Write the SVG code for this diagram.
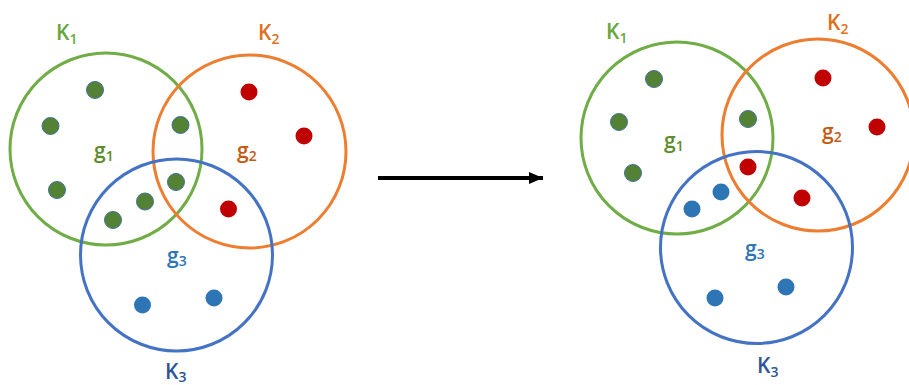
<svg xmlns="http://www.w3.org/2000/svg" width="909" height="385" viewBox="0 0 909 385">
<style>
.c{fill:none;stroke-width:3}
.cg{stroke:#70AD47}.co{stroke:#ED7D31}.cb{stroke:#4472C4}
.dg{fill:#548235;stroke:#41719C;stroke-width:1}
.dr{fill:#C00000}
.db{fill:#2E75B6}
text{font-family:"Open Sans","Liberation Sans",sans-serif;font-size:21px;font-weight:600}
.s{font-size:14px}
.tk1{fill:#6AA53E}.tg1{fill:#5B8C2A}
.tk2{fill:#E07020}.tg2{fill:#C55A11}
.tk3{fill:#2F5597}.tg3{fill:#2E75B6}
</style>
<defs>
<marker id="ah" markerWidth="14" markerHeight="12" refX="14" refY="6" orient="auto" markerUnits="userSpaceOnUse">
<path d="M0,0 L14,6 L0,12 Z" fill="#000"/>
</marker>
</defs>
<g id="left">
<g id="L-K1">
<circle class="c cg" cx="106" cy="149" r="96"/>
<circle class="dg" cx="95" cy="90" r="8.5"/>
<circle class="dg" cx="50.5" cy="126" r="8.5"/>
<circle class="dg" cx="180.5" cy="125" r="8.5"/>
<circle class="dg" cx="57" cy="190" r="8.5"/>
<circle class="dg" cx="176" cy="182" r="8.5"/>
<circle class="dg" cx="145" cy="201.5" r="8.5"/>
<circle class="dg" cx="113" cy="220" r="8.5"/>
<text class="tk1" x="56" y="40">K<tspan class="s" dy="4">1</tspan></text>
<text class="tg1" x="94" y="158">g<tspan class="s" dy="3">1</tspan></text>
</g>
<g id="L-K2">
<circle class="c co" cx="249.5" cy="151.5" r="96.5"/>
<circle class="dr" cx="249" cy="92" r="8.5"/>
<circle class="dr" cx="304" cy="136" r="8.5"/>
<circle class="dr" cx="228.5" cy="209" r="8.5"/>
<text class="tk2" x="258" y="40">K<tspan class="s" dy="4">2</tspan></text>
<text class="tg2" x="237" y="158">g<tspan class="s" dy="3">2</tspan></text>
</g>
<g id="L-K3">
<circle class="c cb" cx="176.5" cy="255" r="96"/>
<circle class="db" cx="142.5" cy="305" r="8.5"/>
<circle class="db" cx="214" cy="298" r="8.5"/>
<text class="tg3" x="167" y="263">g<tspan class="s" dy="3">3</tspan></text>
<text class="tk3" x="165" y="379">K<tspan class="s" dy="3">3</tspan></text>
</g>
</g>
<g id="connectors">
<line x1="378" y1="178" x2="543" y2="178" stroke="#000" stroke-width="4" marker-end="url(#ah)"/>
</g>
<g id="right">
<g id="R-K1">
<circle class="c cg" cx="677" cy="138" r="96"/>
<circle class="dg" cx="654" cy="79" r="8.5"/>
<circle class="dg" cx="619" cy="122" r="8.5"/>
<circle class="dg" cx="748" cy="119" r="8.5"/>
<circle class="dg" cx="633" cy="173" r="8.5"/>
<text class="tk1" x="606" y="39">K<tspan class="s" dy="4">1</tspan></text>
<text class="tg1" x="664" y="148">g<tspan class="s" dy="3">1</tspan></text>
</g>
<g id="R-K2">
<circle class="c co" cx="818" cy="135" r="96"/>
<circle class="dr" cx="823" cy="78" r="8.5"/>
<circle class="dr" cx="877" cy="127" r="8.5"/>
<circle class="dr" cx="748" cy="167" r="8.5"/>
<circle class="dr" cx="802" cy="198" r="8.5"/>
<text class="tk2" x="827" y="30">K<tspan class="s" dy="4">2</tspan></text>
<text class="tg2" x="822" y="139">g<tspan class="s" dy="3">2</tspan></text>
</g>
<g id="R-K3">
<circle class="c cb" cx="756.5" cy="247.5" r="96"/>
<circle class="db" cx="721" cy="192" r="8.5"/>
<circle class="db" cx="692" cy="209" r="8.5"/>
<circle class="db" cx="786" cy="287" r="8.5"/>
<circle class="db" cx="715" cy="298" r="8.5"/>
<text class="tg3" x="745" y="256">g<tspan class="s" dy="3">3</tspan></text>
<text class="tk3" x="757" y="373">K<tspan class="s" dy="4">3</tspan></text>
</g>
</g>
</svg>
